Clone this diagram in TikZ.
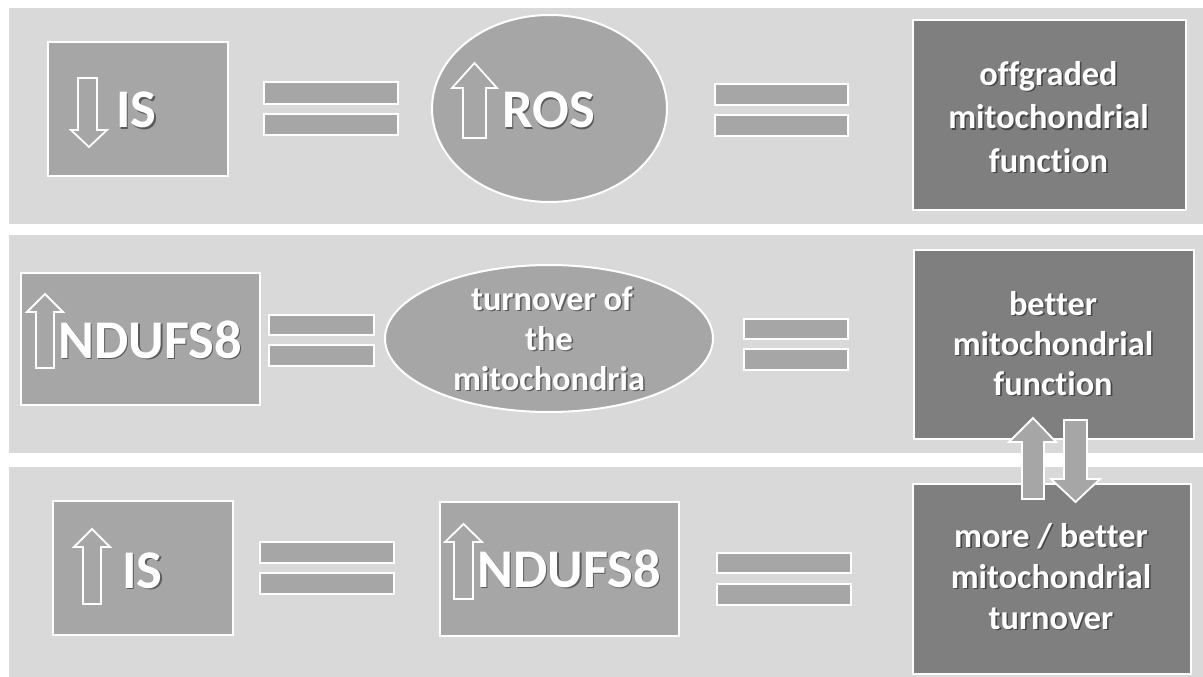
\documentclass[tikz,border=0pt]{standalone}
\usepackage{fontspec}
\setmainfont{Carlito}[Ligatures={NoCommon}]
\usetikzlibrary{shapes.geometric,calc}
\definecolor{bandc}{HTML}{D9D9D9}
\definecolor{midc}{HTML}{A6A6A6}
\definecolor{darkc}{HTML}{7F7F7F}
\tikzset{
  bandbox/.style={fill=bandc, draw=none},
  lbox/.style={fill=midc, draw=white, line width=2pt},
  dbox/.style={fill=darkc, draw=white, line width=2pt},
  eqbar/.style={fill=midc, draw=white, line width=2pt},
  hollow/.style={draw=white, line width=1.8pt, line join=miter},
  blockarr/.style={fill=midc, draw=white, line width=1.8pt, line join=miter},
  big/.style={font=\fontsize{54.5}{60}\selectfont\bfseries, inner sep=0pt, anchor=base west},
  small/.style={font=\fontsize{34.3}{40}\selectfont\bfseries, inner sep=0pt, anchor=base},
}
% box node from (x1,y1) to (x2,y2)
\newcommand\boxnode[6]{%
  \node[#2, minimum width={#5-#3}, minimum height={#6-#4}, inner sep=0pt, anchor=north west] (#1) at (#3,#4) {};}
% text with drop shadow; #3 is "x,y"
\newcommand\stx[4]{%
  \node[#2, text=black, opacity=0.45] (#1s) at ([shift={(1.6,1.9)}]#3) {#4};
  \node[#2, text=white] (#1) at (#3) {#4};}
\begin{document}
\begin{tikzpicture}[x=1pt,y=-1pt]
\useasboundingbox (0,0) rectangle (1203,677);
\fill[white] (0,0) rectangle (1203,677);
% bands
\boxnode{band1}{bandbox}{9}{8}{1203}{224}
\boxnode{band2}{bandbox}{9}{235}{1203}{453}
\boxnode{band3}{bandbox}{9}{467}{1203}{677}

% ---------- row 1 ----------
\boxnode{is1}{lbox}{47}{41}{227}{175}
\draw[hollow] (78,78) -- (78,130) -- (71,130) -- (89,147) -- (107,130) -- (97,130) -- (97,78) -- cycle;
\stx{is1t}{big}{116,128}{IS}

\boxnode{eq1a}{eqbar}{263}{81}{397}{103}
\boxnode{eq1b}{eqbar}{263}{113}{397}{134}

\node[ellipse, lbox, minimum width=235, minimum height=187, inner sep=0pt] (ros) at (549.5,108.5) {};
\draw[hollow] (463,138) -- (463,88) -- (452,88) -- (474.5,63) -- (497,88) -- (486,88) -- (486,138) -- cycle;
\stx{rost}{big}{502,128}{ROS}

\boxnode{eq2a}{eqbar}{714}{83}{847}{104}
\boxnode{eq2b}{eqbar}{714}{114}{847}{135}

\boxnode{omf}{dbox}{912}{19}{1185}{209}
\stx{omf1}{small}{1048.5,85}{offgraded}
\stx{omf2}{small}{1048.5,128.5}{mitochondrial}
\stx{omf3}{small}{1048.5,172}{function}

% ---------- row 2 ----------
\boxnode{nd1}{lbox}{20}{272}{259}{404}
\draw[hollow] (36,368) -- (36,312) -- (27,312) -- (45,294) -- (63,312) -- (54,312) -- (54,368) -- cycle;
\stx{nd1t}{big}{58,358}{NDUFS8}

\boxnode{eq3a}{eqbar}{268}{314}{373}{334}
\boxnode{eq3b}{eqbar}{268}{344}{373}{365}

\node[ellipse, lbox, minimum width=328, minimum height=147, inner sep=0pt] (turn) at (549,338.5) {};
\stx{turn1}{small}{552,310}{turnover of}
\stx{turn2}{small}{549,350}{the}
\stx{turn3}{small}{549,390}{mitochondria}

\boxnode{eq4a}{eqbar}{743}{318}{847}{338}
\boxnode{eq4b}{eqbar}{743}{348}{847}{369}

\boxnode{bmf}{dbox}{913}{249}{1193}{438}
\stx{bmf1}{small}{1053,315}{better}
\stx{bmf2}{small}{1053,355}{mitochondrial}
\stx{bmf3}{small}{1053,395}{function}

% ---------- row 3 ----------
\boxnode{is3}{lbox}{52}{500}{232}{634}
\draw[hollow] (83,604) -- (83,547) -- (74,547) -- (92,529) -- (110,547) -- (101,547) -- (101,604) -- cycle;
\stx{is3t}{big}{122,588}{IS}

\boxnode{eq5a}{eqbar}{259}{541}{393}{562}
\boxnode{eq5b}{eqbar}{259}{572}{393}{593}

\boxnode{nd3}{lbox}{439}{501}{678}{635}
\draw[hollow] (454,599) -- (454,542) -- (445,542) -- (463.5,524) -- (482,542) -- (473,542) -- (473,599) -- cycle;
\stx{nd3t}{big}{477,587}{NDUFS8}

\boxnode{eq6a}{eqbar}{716}{552}{850}{572}
\boxnode{eq6b}{eqbar}{716}{583}{850}{604}

\boxnode{mbt}{dbox}{912}{483}{1190}{673}
\stx{mbt1}{small}{1051,547}{more / better}
\stx{mbt2}{small}{1051,588}{mitochondrial}
\stx{mbt3}{small}{1051,629}{turnover}

% ---------- block arrows between bmf and mbt ----------
\draw[blockarr] (1022,499) -- (1022,442) -- (1009,442) -- (1033,418) -- (1056,442) -- (1044,442) -- (1044,499) -- cycle;
\draw[blockarr] (1064,420) -- (1064,479) -- (1051,479) -- (1075.5,502) -- (1100,479) -- (1087,479) -- (1087,420) -- cycle;
\end{tikzpicture}
\end{document}
